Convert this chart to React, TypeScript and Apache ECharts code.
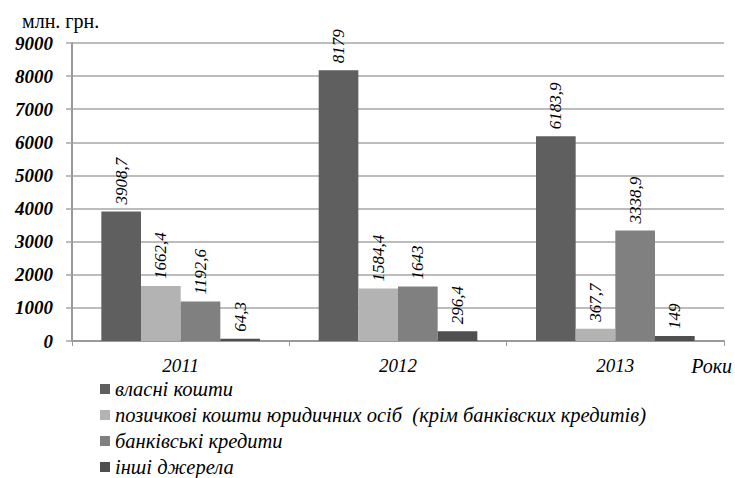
import React, { useEffect, useRef } from "react";
import * as echarts from "echarts";

const categories = ["2011", "2012", "2013"];
const seriesNames = [
  "власні кошти",
  "позичкові кошти юридичних осіб  (крім банківских кредитів)",
  "банківські кредити",
  "інші джерела",
];
const ownFunds = [3908.7, 8179, 6183.9];
const borrowedFunds = [1662.4, 1584.4, 367.7];
const bankCredits = [1192.6, 1643, 3338.9];
const otherSources = [64.3, 296.4, 149];
const seriesColors = ["#5f5f5f", "#b3b3b3", "#808080", "#4f4f4f"];
const yTicks = { min: 0, max: 9000, interval: 1000 };
const unitLabel = "млн. грн.";
const xAxisName = "Роки";

const FONT = "Liberation Serif";

export default function App() {
  const ref = useRef<HTMLDivElement>(null);
  useEffect(() => {
    if (!ref.current) return;
    const chart = echarts.init(ref.current, null, { renderer: "svg" });
    const dataSets = [ownFunds, borrowedFunds, bankCredits, otherSources];
    chart.setOption({
      animation: false,
      color: seriesColors,
      textStyle: { fontFamily: FONT },
      grid: { left: 72, right: 9, top: 43, bottom: 137, containLabel: false },
      graphic: [
        {
          type: "text",
          left: 22,
          top: 11,
          style: { text: unitLabel, fontFamily: FONT, fontSize: 20, fill: "#000" },
        },
      ],
      legend: {
        orient: "vertical",
        left: 95,
        top: 374,
        height: 160,
        itemWidth: 10,
        itemHeight: 10,
        itemGap: 6,
        icon: "rect",
        textStyle: { fontFamily: FONT, fontStyle: "italic", fontSize: 20.5, color: "#000" },
        data: seriesNames,
      },
      xAxis: {
        type: "category",
        data: categories,
        name: xAxisName,
        nameLocation: "end",
        nameGap: 8,
        nameTextStyle: {
          fontFamily: FONT,
          fontStyle: "italic",
          fontSize: 20,
          color: "#000",
          align: "right",
          verticalAlign: "top",
          padding: [15, 0, 0, 0],
        },
        axisLine: { lineStyle: { color: "#999", width: 2 } },
        axisTick: { show: true, length: 5, lineStyle: { color: "#999" } },
        axisLabel: {
          fontFamily: FONT,
          fontStyle: "italic",
          fontSize: 19,
          color: "#000",
          margin: 15,
        },
      },
      yAxis: {
        type: "value",
        min: yTicks.min,
        max: yTicks.max,
        interval: yTicks.interval,
        axisLine: { show: true, lineStyle: { color: "#999", width: 2 } },
        axisTick: { show: true, length: 6, lineStyle: { color: "#a6a6a6", width: 1.5 } },
        splitLine: { lineStyle: { color: "#a6a6a6", width: 1.5 } },
        axisLabel: {
          fontFamily: FONT,
          fontStyle: "italic",
          fontWeight: "bold",
          fontSize: 19,
          color: "#000",
          margin: 19,
          formatter: (v: number) => String(v),
        },
      },
      series: dataSets.map((d, i) => ({
        name: seriesNames[i],
        type: "bar",
        data: d,
        barGap: "0%",
        barCategoryGap: "27%",
        itemStyle: { color: seriesColors[i] },
        label: {
          show: true,
          position: "top",
          rotate: 90,
          align: "left",
          verticalAlign: "middle",
          distance: 7,
          fontFamily: FONT,
          fontStyle: "italic",
          fontSize: 17,
          color: "#000",
          formatter: (p: any) => String(p.value).replace(".", ","),
        },
      })),
    });
    return () => chart.dispose();
  }, []);
  return (
    <div
      ref={ref}
      style={{ position: "absolute", left: 0, top: 0, width: 735, height: 478 }}
    />
  );
}
